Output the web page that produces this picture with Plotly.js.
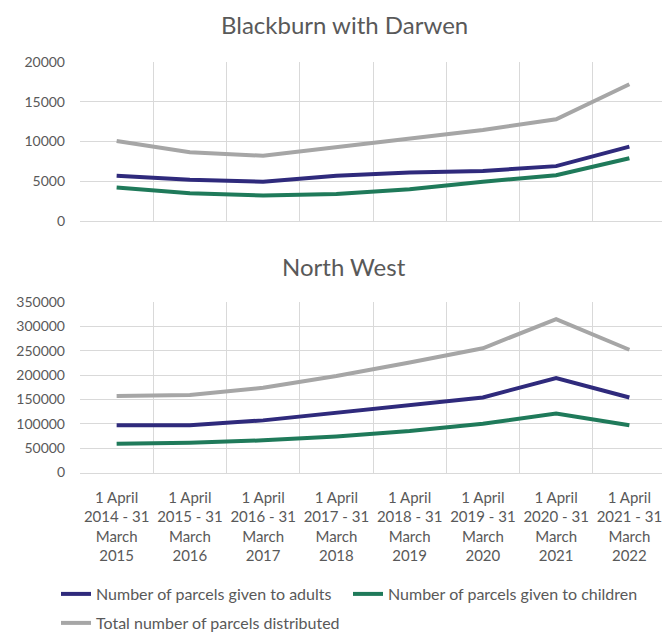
<!DOCTYPE html>
<html>
<head>
<meta charset="utf-8">
<script src="https://cdn.plot.ly/plotly-3.0.1.min.js"></script>
<style>
  html, body { margin: 0; padding: 0; overflow: hidden; background: #ffffff; }
  #chart { width: 668px; height: 650px; }
</style>
</head>
<body>
<div id="chart"></div>
<script>
// Financial-year categories shared by both panels
const periods = [
  "1 April<br>2014 - 31<br>March<br>2015",
  "1 April<br>2015 - 31<br>March<br>2016",
  "1 April<br>2016 - 31<br>March<br>2017",
  "1 April<br>2017 - 31<br>March<br>2018",
  "1 April<br>2018 - 31<br>March<br>2019",
  "1 April<br>2019 - 31<br>March<br>2020",
  "1 April<br>2020 - 31<br>March<br>2021",
  "1 April<br>2021 - 31<br>March<br>2022"
];

const seriesNames = [
  "Number of parcels given to adults",
  "Number of parcels given to children",
  "Total number of parcels distributed"
];

// Blackburn with Darwen
const bwdAdults   = [5700, 5200, 4950, 5700, 6100, 6300, 6900, 9350];
const bwdChildren = [4200, 3500, 3200, 3400, 4000, 4950, 5750, 7900];
const bwdTotal    = [10050, 8650, 8200, 9250, 10350, 11450, 12800, 17200];

// North West
const nwAdults   = [97000, 97000, 107000, 123000, 140000, 154000, 194000, 154000];
const nwChildren = [59000, 61000, 66000, 74000, 85000, 100000, 121000, 97000];
const nwTotal    = [157000, 159000, 174000, 198000, 226000, 255000, 315000, 252000];

const colors = ["#2f2a7c", "#1f7a5a", "#a6a6a6"];
const FONT = "Lato, 'Open Sans', sans-serif";
const TEXT = "#595959";
const GRID = "#d9d9d9";

// The figure is a little larger than the window; the overflow is clipped.
const W = 668, H = 650;
const xDom = [80 / W, 666 / W];

function line(x, y, i, xa, ya, show, legend) {
  return {
    type: "scatter", mode: "lines", x: x, y: y, name: seriesNames[i],
    xaxis: xa, yaxis: ya, showlegend: show, legend: legend,
    line: { color: colors[i], width: 4 },
    hoverinfo: "x+y+name"
  };
}

const traces = [
  line(periods, bwdAdults, 0, "x", "y", false, "legend"),
  line(periods, bwdChildren, 1, "x", "y", false, "legend"),
  line(periods, bwdTotal, 2, "x", "y", false, "legend2"),
  line(periods, nwAdults, 0, "x2", "y2", true, "legend"),
  line(periods, nwChildren, 1, "x2", "y2", true, "legend"),
  line(periods, nwTotal, 2, "x2", "y2", true, "legend2")
];

const xCommon = {
  type: "category", domain: xDom, tickson: "boundaries",
  range: [-0.5, periods.length - 0.5],
  showgrid: true, gridcolor: GRID, gridwidth: 1,
  showline: true, linecolor: GRID, linewidth: 1,
  ticks: "", zeroline: false, fixedrange: true, tickangle: 0,
  tickfont: { family: FONT, size: 15, color: TEXT }
};
const yCommon = {
  showgrid: true, gridcolor: GRID, gridwidth: 1,
  zeroline: false, showline: false, ticks: "",
  ticklabelstandoff: 14, fixedrange: true,
  tickfont: { family: FONT, size: 14, color: TEXT }
};

const layout = {
  width: W, height: H,
  margin: { l: 0, r: 0, t: 0, b: 0 },
  paper_bgcolor: "#ffffff", plot_bgcolor: "#ffffff",
  font: { family: FONT, color: TEXT },
  xaxis: Object.assign({}, xCommon, { anchor: "y", showticklabels: false }),
  yaxis: Object.assign({}, yCommon, {
    anchor: "x", domain: [(H - 221) / H, (H - 62) / H],
    range: [0, 20000], dtick: 5000, tickformat: "d"
  }),
  xaxis2: Object.assign({}, xCommon, {
    anchor: "y2", showticklabels: true, ticklabelstandoff: 11
  }),
  yaxis2: Object.assign({}, yCommon, {
    anchor: "x2", domain: [(H - 472.5) / H, (H - 302) / H],
    range: [0, 350000], dtick: 50000, tickformat: "d"
  }),
  annotations: [
    { text: "Blackburn with Darwen", xref: "paper", yref: "paper",
      x: 344.5 / W, y: 1 - 25 / H, xanchor: "center", yanchor: "middle",
      showarrow: false, font: { family: FONT, size: 24, color: TEXT } },
    { text: "North West", xref: "paper", yref: "paper",
      x: 344 / W, y: 1 - 266 / H, xanchor: "center", yanchor: "middle",
      showarrow: false, font: { family: FONT, size: 24, color: TEXT } }
  ],
  legend: {
    orientation: "h", x: 56 / W, xanchor: "left", y: 1 - 594 / H, yanchor: "middle",
    entrywidth: 247, entrywidthmode: "pixels",
    font: { family: FONT, size: 16, color: TEXT }, bgcolor: "rgba(0,0,0,0)"
  },
  legend2: {
    orientation: "h", x: 56 / W, xanchor: "left", y: 1 - 623 / H, yanchor: "middle",
    font: { family: FONT, size: 16, color: TEXT }, bgcolor: "rgba(0,0,0,0)"
  },
  showlegend: true
};

Plotly.newPlot("chart", traces, layout, { displayModeBar: false, staticPlot: true });
</script>
</body>
</html>
